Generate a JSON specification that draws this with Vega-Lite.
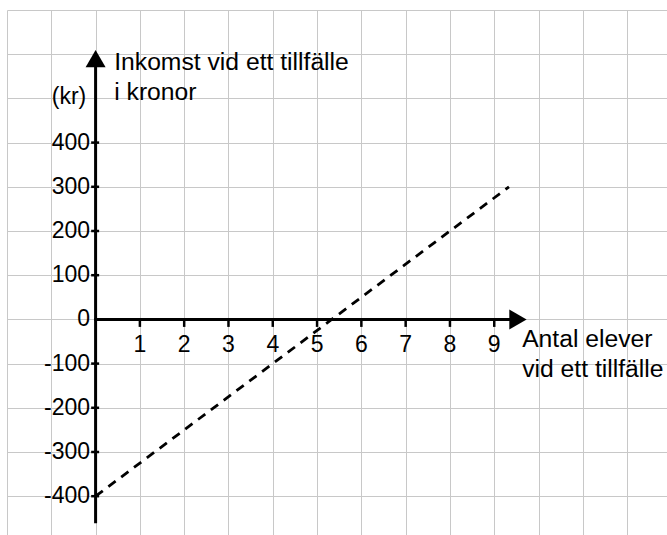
{
  "$schema": "https://vega.github.io/schema/vega-lite/v6.json",
  "width": 660,
  "height": 525,
  "autosize": "none",
  "padding": {"left": 7, "top": 10, "right": 0, "bottom": 0},
  "background": "white",
  "config": {
    "view": {"stroke": null},
    "text": {"font": "Liberation Sans", "color": "black"}
  },
  "datasets": {
    "line": [{"x": 0, "y": -400}, {"x": 9.333, "y": 300}],
    "yaxis": [{"x": 0, "y": -461, "y2": 575}],
    "xaxis": [{"x": -0.03, "x2": 9.4, "y": 0}],
    "xticks": [
      {"x": 1, "y": 0, "y2": -17}, {"x": 2, "y": 0, "y2": -17}, {"x": 3, "y": 0, "y2": -17},
      {"x": 4, "y": 0, "y2": -17}, {"x": 5, "y": 0, "y2": -17}, {"x": 6, "y": 0, "y2": -17},
      {"x": 7, "y": 0, "y2": -17}, {"x": 8, "y": 0, "y2": -17}, {"x": 9, "y": 0, "y2": -17}
    ],
    "yticks": [
      {"x": -0.1, "x2": 0.08, "y": -400}, {"x": -0.1, "x2": 0.08, "y": -300},
      {"x": -0.1, "x2": 0.08, "y": -200}, {"x": -0.1, "x2": 0.08, "y": -100},
      {"x": -0.1, "x2": 0.08, "y": 100}, {"x": -0.1, "x2": 0.08, "y": 200},
      {"x": -0.1, "x2": 0.08, "y": 300}, {"x": -0.1, "x2": 0.08, "y": 400}
    ],
    "ylabels": [
      {"x": -0.124, "y": -400, "label": "-400"}, {"x": -0.124, "y": -300, "label": "-300"},
      {"x": -0.124, "y": -200, "label": "-200"}, {"x": -0.124, "y": -100, "label": "-100"},
      {"x": -0.124, "y": 0, "label": "0"}, {"x": -0.124, "y": 100, "label": "100"},
      {"x": -0.124, "y": 200, "label": "200"}, {"x": -0.124, "y": 300, "label": "300"},
      {"x": -0.124, "y": 400, "label": "400"}
    ],
    "xlabels": [
      {"x": 1, "y": -74, "label": "1"}, {"x": 2, "y": -74, "label": "2"}, {"x": 3, "y": -74, "label": "3"},
      {"x": 4, "y": -74, "label": "4"}, {"x": 5, "y": -74, "label": "5"}, {"x": 6, "y": -74, "label": "6"},
      {"x": 7, "y": -74, "label": "7"}, {"x": 8, "y": -74, "label": "8"}, {"x": 9, "y": -74, "label": "9"}
    ],
    "uparrow": [{"x": 0, "y": 590}],
    "rightarrow": [{"x": 9.535, "y": 0}],
    "ytitle": [{"x": 0.42, "y": 564, "label": "Inkomst vid ett tillfälle\ni kronor"}],
    "unit": [{"x": -0.21, "y": 487, "label": "(kr)"}],
    "xtitle": [{"x": 9.63, "y": -62.4, "label": "Antal elever\nvid ett tillfälle"}]
  },
  "encoding": {
    "x": {
      "field": "x",
      "type": "quantitative",
      "scale": {"domain": [-2, 12.9], "nice": false, "zero": false},
      "axis": {
        "values": [-2, -1, 0, 1, 2, 3, 4, 5, 6, 7, 8, 9, 10, 11, 12],
        "grid": true,
        "gridColor": "#c8c8c8",
        "gridWidth": 1,
        "gridOpacity": 1,
        "domain": false,
        "ticks": false,
        "labels": false,
        "title": null
      }
    },
    "y": {
      "field": "y",
      "type": "quantitative",
      "scale": {"domain": [-487.8, 700], "nice": false, "zero": false},
      "axis": {
        "values": [-400, -300, -200, -100, 0, 100, 200, 300, 400, 500, 600, 700],
        "grid": true,
        "gridColor": "#c8c8c8",
        "gridWidth": 1,
        "gridOpacity": 1,
        "domain": false,
        "ticks": false,
        "labels": false,
        "title": null
      }
    }
  },
  "layer": [
    {
      "data": {"name": "line"},
      "mark": {"type": "line", "color": "black", "strokeWidth": 2.8, "strokeDash": [9, 7]},
      "encoding": {}
    },
    {
      "data": {"name": "yaxis"},
      "mark": {"type": "rule", "color": "black", "strokeWidth": 3},
      "encoding": {"y2": {"field": "y2"}}
    },
    {
      "data": {"name": "xaxis"},
      "mark": {"type": "rule", "color": "black", "strokeWidth": 3},
      "encoding": {"x2": {"field": "x2"}}
    },
    {
      "data": {"name": "xticks"},
      "mark": {"type": "rule", "color": "black", "strokeWidth": 2.5},
      "encoding": {"y2": {"field": "y2"}}
    },
    {
      "data": {"name": "yticks"},
      "mark": {"type": "rule", "color": "black", "strokeWidth": 2.5},
      "encoding": {"x2": {"field": "x2"}}
    },
    {
      "data": {"name": "uparrow"},
      "mark": {"type": "point", "shape": "triangle-up", "filled": true, "color": "black", "opacity": 1, "size": 400}
    },
    {
      "data": {"name": "rightarrow"},
      "mark": {"type": "point", "shape": "triangle-right", "filled": true, "color": "black", "opacity": 1, "size": 400}
    },
    {
      "data": {"name": "ylabels"},
      "mark": {"type": "text", "align": "right", "baseline": "middle", "fontSize": 23},
      "encoding": {"text": {"field": "label"}}
    },
    {
      "data": {"name": "xlabels"},
      "mark": {"type": "text", "align": "center", "baseline": "alphabetic", "fontSize": 23},
      "encoding": {"text": {"field": "label"}}
    },
    {
      "data": {"name": "ytitle"},
      "mark": {"type": "text", "align": "left", "baseline": "alphabetic", "fontSize": 24.7, "lineBreak": "\n", "lineHeight": 30},
      "encoding": {"text": {"field": "label"}}
    },
    {
      "data": {"name": "unit"},
      "mark": {"type": "text", "align": "right", "baseline": "alphabetic", "fontSize": 23},
      "encoding": {"text": {"field": "label"}}
    },
    {
      "data": {"name": "xtitle"},
      "mark": {"type": "text", "align": "left", "baseline": "alphabetic", "fontSize": 24.7, "lineBreak": "\n", "lineHeight": 30},
      "encoding": {"text": {"field": "label"}}
    }
  ]
}
